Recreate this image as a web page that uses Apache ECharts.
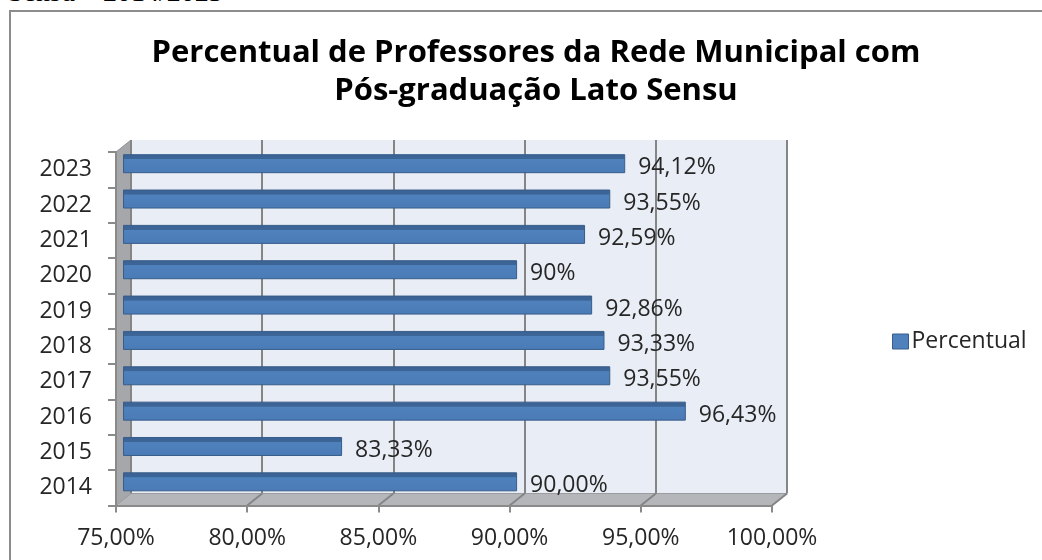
<!DOCTYPE html>
<html>
<head>
<meta charset="utf-8">
<script src="https://cdn.jsdelivr.net/npm/echarts@6/dist/echarts.min.js"></script>
<style>
  html, body { margin: 0; padding: 0; background: #fff; overflow: hidden; }
  #main { width: 1042px; height: 560px; }
  #caption { position: absolute; left: 8px; top: -24px; font: 28px/32px "Liberation Serif", serif; color: #000; white-space: nowrap; }
</style>
</head>
<body>
<div id="caption">Sensu – 2014/2023</div>
<div id="main"></div>
<script>
var years = ['2014', '2015', '2016', '2017', '2018', '2019', '2020', '2021', '2022', '2023'];
var percentual = [90.00, 83.33, 96.43, 93.55, 93.33, 92.86, 90, 92.59, 93.55, 94.12];
var labels = ['90,00%', '83,33%', '96,43%', '93,55%', '93,33%', '92,86%', '90%', '92,59%', '93,55%', '94,12%'];
var xTicks = [75, 80, 85, 90, 95, 100];

// front plane (axes), back wall, bars halfway in between
var front = { left: 116, top: 152, width: 656, height: 353.5 };
var dx = 15, dy = -12;
var xMin = 75, xMax = 100;

function fx(v) { return front.left + (v - xMin) / (xMax - xMin) * front.width; }
var fBottom = front.top + front.height;

var myChart = echarts.init(document.getElementById('main'));

var deco = [];
// frame
deco.push({ type: 'rect', z: -10, shape: { x: 10, y: 11, width: 1200, height: 700 },
  style: { fill: null, stroke: '#8c8c8c', lineWidth: 2 } });
// side wall
deco.push({ type: 'polygon', z: -5, shape: { points: [
  [front.left, front.top], [front.left + dx, front.top + dy],
  [front.left + dx, fBottom + dy], [front.left, fBottom]] },
  style: { fill: '#a5a7aa', stroke: '#8e9093', lineWidth: 1 } });
// floor
deco.push({ type: 'polygon', z: -5, shape: { points: [
  [front.left, fBottom], [front.left + dx, fBottom + dy],
  [front.left + front.width + dx, fBottom + dy], [front.left + front.width, fBottom]] },
  style: { fill: '#b4b6ba', stroke: '#9a9c9f', lineWidth: 1 } });
// floor grid lines
xTicks.forEach(function (t) {
  if (t === xMin) return;
  deco.push({ type: 'line', z: -4, shape: { x1: fx(t), y1: fBottom, x2: fx(t) + dx, y2: fBottom + dy },
    style: { stroke: '#858585', lineWidth: 2 } });
});

var option = {
  animation: false,
  backgroundColor: 'transparent',
  title: {
    text: 'Percentual de Professores da Rede Municipal com\nPós-graduação Lato Sensu',
    left: 531, top: 29, textAlign: 'center',
    textStyle: { fontFamily: 'Open Sans', fontWeight: 'bold', fontSize: 31, lineHeight: 38, color: '#000' }
  },
  legend: {
    data: [{ name: 'Percentual', itemStyle: { color: '#4f81bd', borderColor: '#385d8a', borderWidth: 1 } }],
    left: 887, top: 325, orient: 'vertical',
    icon: 'rect', itemWidth: 16, itemHeight: 15, itemGap: 6,
    textStyle: { fontFamily: 'Open Sans', fontSize: 23, color: '#262626', padding: [0, 0, 0, -2] }
  },
  graphic: deco,
  grid: [
    { left: front.left + dx, top: front.top + dy, width: front.width, height: front.height,
      show: true, backgroundColor: '#e9edf5', borderWidth: 0, z: -6 },
    { left: front.left + dx / 2, top: front.top + dy / 2, width: front.width, height: front.height },
    { left: front.left, top: front.top, width: front.width, height: front.height }
  ],
  xAxis: [
    { gridIndex: 0, type: 'value', min: xMin, max: xMax, interval: 5,
      axisLine: { show: false }, axisTick: { show: false }, axisLabel: { show: false },
      splitLine: { show: true, lineStyle: { color: '#858585', width: 2 } } },
    { gridIndex: 1, type: 'value', min: xMin, max: xMax, interval: 5, show: false },
    { gridIndex: 2, type: 'value', min: xMin, max: xMax, interval: 5,
      axisLine: { show: true, lineStyle: { color: '#8a8a8a', width: 2 } },
      axisTick: { show: true, length: 7, lineStyle: { color: '#8a8a8a', width: 2 } },
      splitLine: { show: false },
      axisLabel: { margin: 21, fontFamily: 'Open Sans', fontSize: 23, color: '#262626',
        formatter: function (v) { return v.toFixed(2).replace('.', ',') + '%'; } } }
  ],
  yAxis: [
    { gridIndex: 0, type: 'category', data: years, show: false },
    { gridIndex: 1, type: 'category', data: years, show: false },
    { gridIndex: 2, type: 'category', data: years,
      axisLine: { show: true, lineStyle: { color: '#8a8a8a', width: 2 } },
      axisTick: { show: true, length: 8, lineStyle: { color: '#8a8a8a', width: 2 } },
      axisLabel: { margin: 24, fontFamily: 'Open Sans', fontSize: 23, color: '#262626',
        padding: [4, 0, 0, 0] } }
  ],
  series: [{
    name: 'Percentual',
    type: 'bar',
    xAxisIndex: 1, yAxisIndex: 1,
    data: percentual,
    barWidth: 19,
    itemStyle: {
      color: new echarts.graphic.LinearGradient(0, 0, 0, 1, [
        { offset: 0, color: '#3a6194' },
        { offset: 0.25, color: '#3d6698' },
        { offset: 0.28, color: '#4f81bd' },
        { offset: 1, color: '#4a7bb7' }
      ]),
      borderColor: '#385d8a', borderWidth: 1
    },
    label: {
      show: true, position: 'right', distance: 13, offset: [0, 4],
      fontFamily: 'Open Sans', fontSize: 23, color: '#262626',
      formatter: function (p) { return labels[p.dataIndex]; }
    }
  }]
};

myChart.setOption(option);
</script>
</body>
</html>
